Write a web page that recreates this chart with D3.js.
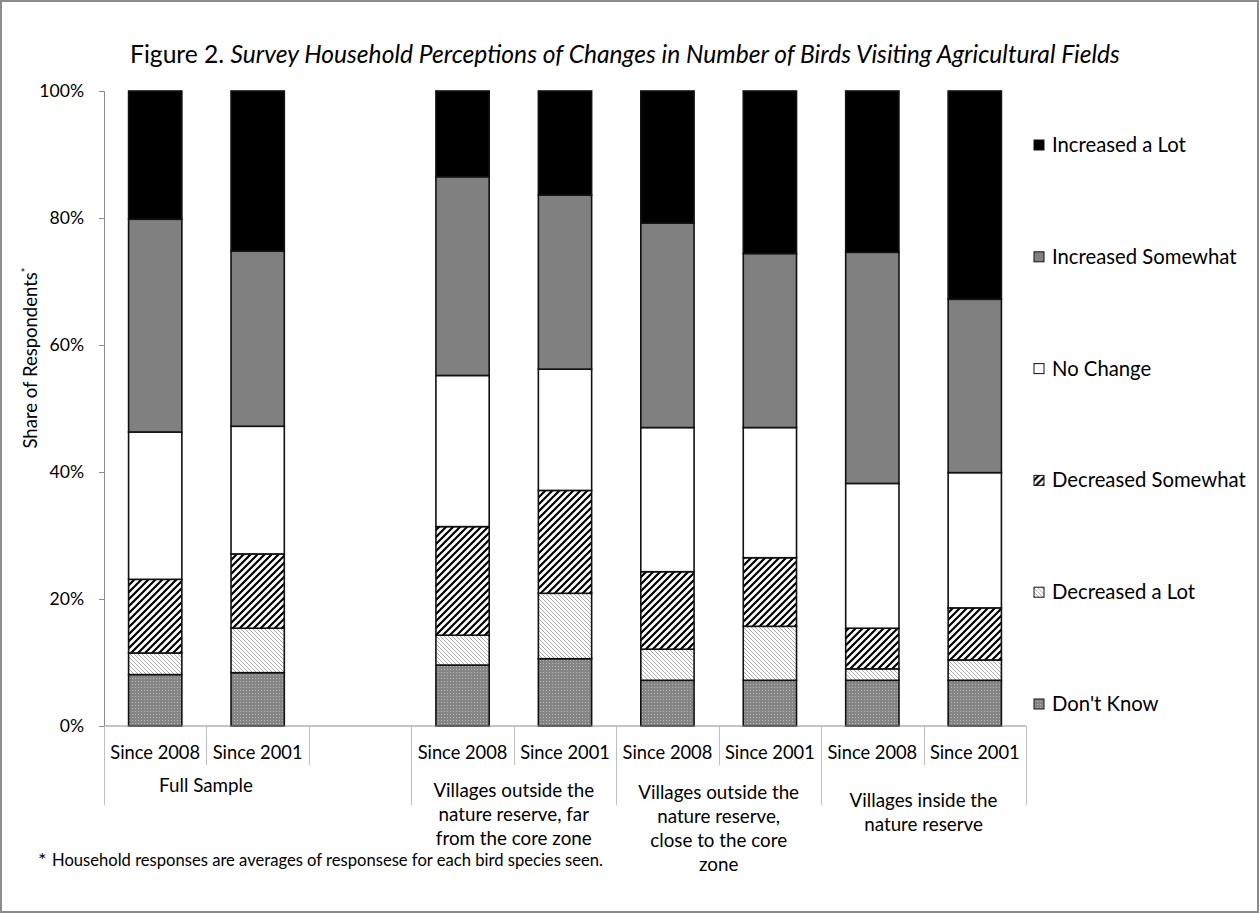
<!DOCTYPE html>
<html>
<head>
<meta charset="utf-8">
<script src="https://cdn.jsdelivr.net/npm/d3@7"></script>
<style>
  html, body { margin: 0; padding: 0; background: #fff; }
  svg { display: block; font-family: Lato, "Open Sans", sans-serif; }
</style>
</head>
<body>
<svg id="chart" width="1259" height="913"></svg>
<script>
// Category slots along the x axis ("" marks the spacer slot after Full Sample)
const slots = ["fs08", "fs01", "gap", "far08", "far01", "close08", "close01", "in08", "in01"];
const slotLabels = ["Since 2008", "Since 2001", "", "Since 2008", "Since 2001", "Since 2008", "Since 2001", "Since 2008", "Since 2001"];

// Groups of slots with their wrapped labels
const groupLines = [
  ["Full Sample"],
  ["Villages outside the", "nature reserve, far", "from the core zone"],
  ["Villages outside the", "nature reserve,", "close to the core", "zone"],
  ["Villages inside the", "nature reserve"]
];
const groupStart = [0, 3, 5, 7];

// Response categories, stacked from the bottom up
const seriesNames = ["Don't Know", "Decreased a Lot", "Decreased Somewhat", "No Change", "Increased Somewhat", "Increased a Lot"];

// Shares (%) per slot, same order as `slots`
const dontKnow          = [8.1, 8.4, null, 9.6, 10.6, 7.2, 7.2, 7.2, 7.2];
const decreasedALot     = [3.4, 7.0, null, 4.7, 10.3, 4.9, 8.5, 1.8, 3.2];
const decreasedSomewhat = [11.6, 11.7, null, 17.1, 16.2, 12.2, 10.8, 6.4, 8.2];
const noChange          = [23.2, 20.1, null, 23.8, 19.1, 22.7, 20.5, 22.8, 21.3];
const increasedSomewhat = [33.5, 27.6, null, 31.3, 27.4, 32.2, 27.4, 36.4, 27.3];
const increasedALot     = [20.2, 25.2, null, 13.5, 16.4, 20.8, 25.6, 25.4, 32.8];

const yTicks = [0, 0.2, 0.4, 0.6, 0.8, 1.0];

const seriesValues = [dontKnow, decreasedALot, decreasedSomewhat, noChange, increasedSomewhat, increasedALot];

const svg = d3.select("#chart");
const W = 1259, H = 913;

// Outer frame
svg.append("rect").attr("x", 1).attr("y", 1).attr("width", W - 2).attr("height", H - 2)
  .attr("fill", "#fff").attr("stroke", "#8c8c8c").attr("stroke-width", 2);

// Fill patterns
const defs = svg.append("defs");
const pDK = defs.append("pattern").attr("id", "pDK").attr("patternUnits", "userSpaceOnUse")
  .attr("width", 3).attr("height", 3);
pDK.append("rect").attr("width", 3).attr("height", 3).attr("fill", "#858585");
pDK.append("rect").attr("x", 0).attr("y", 0).attr("width", 1).attr("height", 1).attr("fill", "#b8b8b8");

const pDL = defs.append("pattern").attr("id", "pDL").attr("patternUnits", "userSpaceOnUse")
  .attr("width", 4).attr("height", 4);
pDL.append("rect").attr("width", 4).attr("height", 4).attr("fill", "#fff");
pDL.append("path").attr("d", "M-1,-1 L5,5 M-1,3 L1,5 M3,-1 L5,1")
  .attr("stroke", "#aaaaaa").attr("stroke-width", 1);

const pDS = defs.append("pattern").attr("id", "pDS").attr("patternUnits", "userSpaceOnUse")
  .attr("width", 7).attr("height", 7);
pDS.append("rect").attr("width", 7).attr("height", 7).attr("fill", "#fff");
pDS.append("path").attr("d", "M-1,8 L8,-1 M-4,4 L4,-4 M3,11 L11,3")
  .attr("stroke", "#000").attr("stroke-width", 2.2);

const fills = ["url(#pDK)", "url(#pDL)", "url(#pDS)", "#ffffff", "#808080", "#000000"];

// Scales
const x = d3.scaleBand().domain(slots).range([104, 1026]).paddingInner(0.48).paddingOuter(0.24);
const y = d3.scaleLinear().domain([0, 1]).range([726, 91]);
const step = x.step();
const slotLeft = i => x(slots[i]) - step * x.paddingInner() / 2;

// Stack data
const table = slots.map((s, i) => {
  const row = { slot: s };
  seriesNames.forEach((n, k) => { row[n] = seriesValues[k][i] == null ? 0 : seriesValues[k][i] / 100; });
  row.empty = seriesValues[0][i] == null;
  return row;
});
const stack = d3.stack().keys(seriesNames)(table);

// Title
const title = svg.append("text").attr("x", 625).attr("y", 63).attr("text-anchor", "middle")
  .attr("font-size", 24.6).attr("fill", "#000");
title.append("tspan").text("Figure 2. ");
title.append("tspan").attr("font-style", "italic")
  .text("Survey Household Perceptions of Changes in Number of Birds Visiting Agricultural Fields");

// Y axis
const yAxis = svg.append("g").attr("transform", "translate(104,0)")
  .call(d3.axisLeft(y).tickValues(yTicks).tickFormat(d3.format(".0%")).tickSize(5).tickPadding(15));
yAxis.select(".domain").attr("stroke", "#8c8c8c");
yAxis.selectAll(".tick line").attr("stroke", "#8c8c8c");
yAxis.selectAll(".tick text").attr("font-size", 17.6).attr("font-family", "Lato, sans-serif").attr("fill", "#000");

// Y axis title
const yTitle = svg.append("text").attr("transform", "translate(37,358) rotate(-90)")
  .attr("text-anchor", "middle").attr("font-size", 18.5).attr("fill", "#000");
yTitle.append("tspan").text("Share of Respondents");
yTitle.append("tspan").attr("font-size", 11).attr("dy", -7).text("*");

// Bars
svg.append("g").selectAll("g").data(stack).join("g")
  .attr("fill", (d, k) => fills[k])
  .selectAll("rect").data(d => d.filter(p => !p.data.empty)).join("rect")
  .attr("x", p => x(p.data.slot))
  .attr("width", x.bandwidth())
  .attr("y", p => y(p[1]))
  .attr("height", p => y(p[0]) - y(p[1]))
  .attr("stroke", "#111").attr("stroke-width", 1.6);

// X axis line
svg.append("line").attr("x1", 104).attr("x2", 1026).attr("y1", 726).attr("y2", 726)
  .attr("stroke", "#8c8c8c").attr("stroke-width", 1);

// Slot separators: short ones inside groups, long ones between groups
const longSet = new Set(groupStart.concat([9]));
d3.range(0, 10).forEach(i => {
  const xx = i < 9 ? slotLeft(i) : 1026;
  const isLong = longSet.has(i);
  svg.append("line").attr("x1", Math.round(xx) + 0.5).attr("x2", Math.round(xx) + 0.5)
    .attr("y1", 726).attr("y2", isLong ? 805 : 765)
    .attr("stroke", "#bfbfbf").attr("stroke-width", 1);
});

// Slot labels
svg.append("g").selectAll("text").data(slots).join("text")
  .attr("x", d => x(d) + x.bandwidth() / 2).attr("y", 759)
  .attr("text-anchor", "middle").attr("font-size", 18.3).attr("fill", "#000")
  .text((d, i) => slotLabels[i]);

// Group labels
const groupCenters = [206, (slotLeft(3) + slotLeft(5)) / 2, (slotLeft(5) + slotLeft(7)) / 2, (slotLeft(7) + 1026) / 2];
const groupTop = [792, 797, 799, 807];
groupLines.forEach((lines, g) => {
  const t = svg.append("text").attr("text-anchor", "middle").attr("font-size", 18.8).attr("fill", "#000");
  lines.forEach((ln, j) => {
    t.append("tspan").attr("x", groupCenters[g]).attr("y", groupTop[g] + j * 24).text(ln);
  });
});

// Legend (top entry first)
const legendOrder = seriesNames.map((n, k) => k).reverse();
const legY = d3.scalePoint().domain(legendOrder).range([145, 704]);
const leg = svg.append("g").selectAll("g").data(legendOrder).join("g")
  .attr("transform", k => `translate(1034,${legY(k)})`);
leg.append("rect").attr("x", 0).attr("y", -5).attr("width", 10).attr("height", 10)
  .attr("fill", k => fills[k]).attr("stroke", "#111").attr("stroke-width", 1);
leg.append("text").attr("x", 18).attr("y", 7).attr("font-size", 20.3).attr("fill", "#000")
  .text(k => seriesNames[k]);

// Footnote
svg.append("text").attr("x", 38).attr("y", 867).attr("font-size", 20).attr("fill", "#000").text("*");
svg.append("text").attr("x", 52).attr("y", 866).attr("font-size", 16.6).attr("fill", "#000")
  .text("Household responses are averages of responsese for each bird species seen.");
</script>
</body>
</html>
